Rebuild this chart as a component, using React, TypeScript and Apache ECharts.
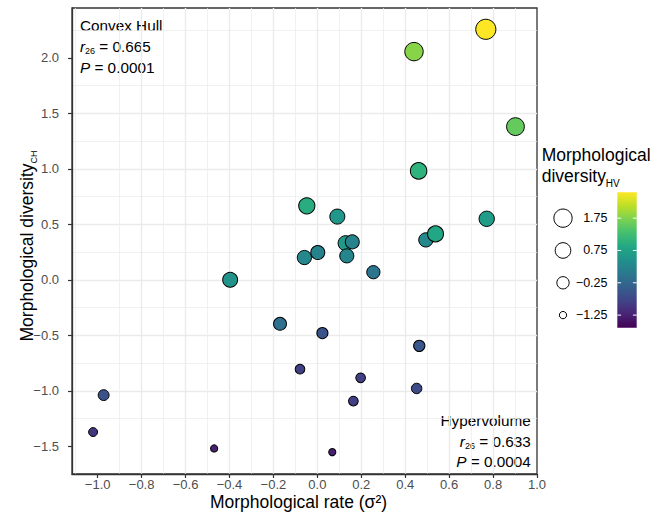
import React, { useEffect, useRef } from 'react';
import * as echarts from 'echarts';

// ---- data ----
const rateX = [-1.021, -0.973, -0.47, -0.397, -0.17, -0.079, -0.059, -0.048, 0.002, 0.023, 0.068, 0.091, 0.129, 0.159, 0.134, 0.164, 0.197, 0.255, 0.44, 0.461, 0.452, 0.464, 0.494, 0.538, 0.767, 0.771, 0.902];
const diversityCH = [-1.372, -1.039, -1.52, 0.0, -0.396, -0.805, 0.201, 0.667, 0.246, -0.48, -1.553, 0.57, 0.33, 0.342, 0.216, -1.093, -0.883, 0.069, 2.057, 0.982, -0.979, -0.595, 0.36, 0.414, 2.258, 0.55, 1.381];
const diversityHV = [-1.0, -0.6, -1.27, 0.5, -0.1, -0.85, 0.3, 0.95, 0.22, -0.55, -1.27, 0.55, 0.6, 0.2, 0.25, -0.85, -0.85, 0.0, 1.8, 1.05, -0.7, -0.5, 0.3, 0.85, 2.55, 0.65, 1.55];

const xTickValues = [-1.0, -0.8, -0.6, -0.4, -0.2, 0.0, 0.2, 0.4, 0.6, 0.8, 1.0];
const yTickValues = [-1.5, -1.0, -0.5, 0.0, 0.5, 1.0, 1.5, 2.0];
const legendValues = [1.75, 0.75, -0.25, -1.25];
const hvMin = -1.64;
const hvMax = 2.55;
const xMin = -1.117;
const xMax = 1.0;
const yMin = -1.75;
const yMax = 2.45;

const viridis = ['#440154', '#482475', '#414487', '#355f8d', '#2a788e', '#21918c', '#22a884', '#44bf70', '#7ad151', '#bddf26', '#fde725'];

const FONT = "'Liberation Sans', Arial, Helvetica, sans-serif";

function fmtTick(v: number, digits: number): string {
  const s = Math.abs(v).toFixed(digits);
  return v < -1e-9 ? '\u2212' + s : s;
}

function sizeOf(v: number): number {
  const f = Math.max(0, Math.min(1, (v - hvMin) / (hvMax - hvMin)));
  return 2.66 + 18.5 * Math.sqrt(f);
}

export default function App() {
  const ref = useRef<HTMLDivElement>(null);

  useEffect(() => {
    document.body.style.margin = '0';
    if (!ref.current) return;
    const chart = echarts.init(ref.current, undefined, { renderer: 'svg' });

    const data = rateX.map((x, i) => [x, diversityCH[i], diversityHV[i]]);

    // legend geometry
    const cbX = 617.3, cbY = 192.3, cbW = 19.4, cbH = 135.4;
    const legY = (v: number) => cbY + ((hvMax - v) / (hvMax - hvMin)) * cbH;

    const graphics: any[] = [];

    // colorbar
    graphics.push({
      type: 'rect',
      silent: true,
      shape: { x: cbX, y: cbY, width: cbW, height: cbH },
      style: {
        fill: {
          type: 'linear', x: 0, y: 0, x2: 0, y2: 1,
          colorStops: viridis.slice().reverse().map((c, i, arr) => ({ offset: i / (arr.length - 1), color: c })),
        },
      },
    });
    legendValues.forEach((v) => {
      const y = legY(v);
      graphics.push({ type: 'line', silent: true, shape: { x1: cbX, y1: y, x2: cbX + 3.8, y2: y }, style: { stroke: '#ffffff', lineWidth: 1 } });
      graphics.push({ type: 'line', silent: true, shape: { x1: cbX + cbW - 3.8, y1: y, x2: cbX + cbW, y2: y }, style: { stroke: '#ffffff', lineWidth: 1 } });
      graphics.push({ type: 'circle', silent: true, shape: { cx: 563, cy: y, r: (sizeOf(v) - 1) / 2 }, style: { fill: '#ffffff', stroke: '#000000', lineWidth: 1 } });
      graphics.push({
        type: 'text', silent: true, x: 607.5, y: y,
        style: { text: fmtTick(v, 2), fontSize: 12.5, fontFamily: FONT, fill: '#000000', align: 'right', verticalAlign: 'middle' },
      });
    });

    // legend title
    graphics.push({
      type: 'text', silent: true, x: 541.7, y: 143.6,
      style: {
        text: '{m|Morphological}', align: 'left', verticalAlign: 'top', fill: '#000',
        rich: { m: { fontSize: 17.5, fontFamily: FONT, lineHeight: 22, fill: '#000' } },
      },
    });
    graphics.push({
      type: 'text', silent: true, x: 541.7, y: 162.4,
      style: {
        text: '{m|diversity}{s|HV}', align: 'left', verticalAlign: 'top', fill: '#000',
        rich: {
          m: { fontSize: 17.5, fontFamily: FONT, lineHeight: 26.4, fill: '#000' },
          s: { fontSize: 10, fontFamily: FONT, lineHeight: 10, verticalAlign: 'bottom', fill: '#000' },
        },
      },
    });

    // annotation helpers
    const annRich = {
      m: { fontSize: 15.3, fontFamily: FONT, lineHeight: 18, fill: '#000' },
      i: { fontSize: 15.3, fontFamily: FONT, fontStyle: 'italic', lineHeight: 18, fill: '#000' },
      s: { fontSize: 9, fontFamily: FONT, lineHeight: 9, verticalAlign: 'bottom', fill: '#000' },
    };
    const ann = (x: number, y: number, text: string, align: string) => ({
      type: 'text', silent: true, x, y,
      style: { text, align, verticalAlign: 'top', fill: '#000', rich: annRich },
    });
    graphics.push(ann(80, 16.5, '{m|Convex Hull}', 'left'));
    graphics.push(ann(80, 37.5, '{i|r}{s|26}{m| = 0.665}', 'left'));
    graphics.push(ann(80, 58.5, '{i|P}{m| = 0.0001}', 'left'));
    graphics.push(ann(530.7, 411.8, '{m|Hypervolume}', 'right'));
    graphics.push(ann(530.7, 432.5, '{i|r}{s|26}{m| = 0.633}', 'right'));
    graphics.push(ann(530.7, 452.5, '{i|P}{m| = 0.0004}', 'right'));

    // axis titles
    graphics.push({
      type: 'text', silent: true, x: 298.5, y: 502.2,
      style: {
        text: '{m|Morphological rate (\u03c3\u00b2)}', align: 'center', verticalAlign: 'middle', fill: '#000',
        rich: { m: { fontSize: 17.5, fontFamily: FONT, lineHeight: 14, fill: '#000' } },
      },
    });
    graphics.push({
      type: 'text', silent: true, x: 27.2, y: 246, rotation: Math.PI / 2,
      style: {
        text: '{m|Morphological diversity}{s|CH}', align: 'center', verticalAlign: 'middle', fill: '#000',
        rich: {
          m: { fontSize: 17.5, fontFamily: FONT, lineHeight: 22, fill: '#000' },
          s: { fontSize: 9, fontFamily: FONT, lineHeight: 9, verticalAlign: 'bottom', fill: '#000' },
        },
      },
    });

    const axisCommon = {
      type: 'value',
      axisLine: { show: true, onZero: false, lineStyle: { color: '#333333', width: 1.3 } },
      splitLine: { show: true, showMinLine: false, showMaxLine: false, lineStyle: { color: '#ebebeb', width: 1.4 } },
      minorTick: { show: false, splitNumber: 2 },
      minorSplitLine: { show: true, lineStyle: { color: '#ebebeb', width: 0.7 } },
    };

    chart.setOption({
      animation: false,
      backgroundColor: '#ffffff',
      grid: {
        left: 72, top: 8, right: 130, bottom: 49,
        show: true, borderColor: '#333333', borderWidth: 1.3, backgroundColor: '#ffffff',
        containLabel: false, outerBoundsMode: 'none',
      },
      xAxis: {
        ...axisCommon,
        min: xMin, max: xMax, splitNumber: 10,
        axisTick: { show: true, length: 4, lineStyle: { color: '#333333', width: 1.2 }, customValues: xTickValues },
        axisLabel: {
          customValues: xTickValues, margin: 4, color: '#4d4d4d', fontSize: 13, lineHeight: 12, fontFamily: FONT,
          formatter: (v: number) => fmtTick(v, 1),
        },
      },
      yAxis: {
        ...axisCommon,
        min: yMin, max: yMax, splitNumber: 8,
        axisTick: { show: true, length: 4, lineStyle: { color: '#333333', width: 1.2 }, customValues: yTickValues },
        axisLabel: {
          customValues: yTickValues, margin: 13, color: '#4d4d4d', fontSize: 13, fontFamily: FONT,
          formatter: (v: number) => fmtTick(v, 1),
        },
      },
      visualMap: {
        show: false, type: 'continuous', dimension: 2, seriesIndex: 0,
        min: hvMin, max: hvMax, inRange: { color: viridis },
      },
      series: [
        {
          type: 'scatter',
          data,
          symbol: 'circle',
          symbolSize: (val: number[]) => sizeOf(val[2]) - 1,
          itemStyle: { borderColor: '#000000', borderWidth: 1, opacity: 1 },
          emphasis: { disabled: true },
          silent: true,
          z: 5,
        },
      ],
      graphic: graphics,
    });

    return () => chart.dispose();
  }, []);

  return <div ref={ref} style={{ width: 667, height: 523 }} />;
}
